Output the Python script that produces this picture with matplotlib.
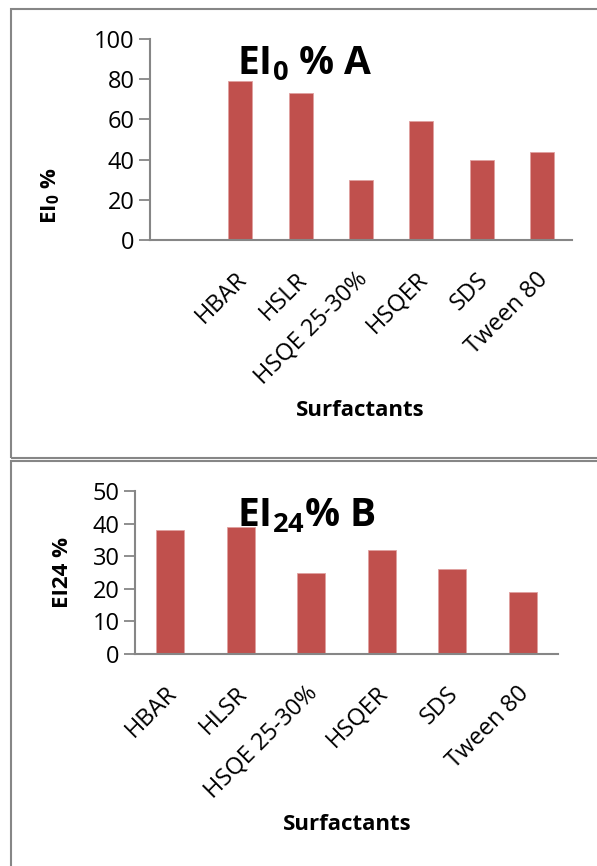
import numpy as np
import matplotlib
matplotlib.use('Agg')
import matplotlib.pyplot as plt
import matplotlib.transforms as mtransforms
from matplotlib.patches import Rectangle

# 数据
cats_a = ['', 'HBAR', 'HSLR', 'HSQE 25-30%', 'HSQER', 'SDS', 'Tween 80']
ei0 = [np.nan, 79, 73, 30, 59, 40, 44]

cats_b = ['HBAR', 'HLSR', 'HSQE 25-30%', 'HSQER', 'SDS', 'Tween 80']
ei24 = [38, 39, 25, 32, 26, 19]

BAR = '#C0504D'
GRAY = '#868686'
FONT = 'Open Sans'

plt.rcParams['font.family'] = [FONT, 'DejaVu Sans']
plt.rcParams['mathtext.fontset'] = 'custom'
plt.rcParams['mathtext.rm'] = FONT
plt.rcParams['mathtext.bf'] = FONT + ':bold'

W, H = 597, 866
fig = plt.figure(figsize=(W / 100, H / 100), dpi=100)


def box(l, t, r, b):
    return [l / W, 1 - b / H, (r - l) / W, (b - t) / H]


def style(ax, cats, ymax, ystep):
    x = np.arange(len(cats))
    ax.set_xlim(-0.5, len(cats) - 0.5)
    ax.set_ylim(0, ymax)
    ax.set_yticks(np.arange(0, ymax + 1, ystep))
    ax.set_xticks(x)
    ax.set_xticklabels(cats, rotation=45, ha='right', va='center',
                       rotation_mode='anchor', fontsize=17)
    ax.tick_params(axis='x', length=0, pad=26)
    shift = mtransforms.ScaledTranslation(3 / 100, 0, fig.dpi_scale_trans)
    for lab in ax.get_xticklabels():
        lab.set_transform(lab.get_transform() + shift)
    ax.tick_params(axis='y', length=8, width=1.3, color=GRAY, labelsize=17, pad=3)
    for s in ['top', 'right']:
        ax.spines[s].set_visible(False)
    for s in ['left', 'bottom']:
        ax.spines[s].set_color(GRAY)
        ax.spines[s].set_linewidth(1.5)
    ax.patch.set_alpha(0)


# 面板边框
fig.patches.append(Rectangle((11 / W, 1 - 458 / H), 1, 449 / H, transform=fig.transFigure,
                             fill=False, edgecolor=GRAY, linewidth=1.5))
fig.patches.append(Rectangle((11 / W, -0.1), 1, 0.1 + (H - 461) / H, transform=fig.transFigure,
                             fill=False, edgecolor=GRAY, linewidth=1.5))

# 图 A
ax1 = fig.add_axes(box(150, 39, 572, 240))
ax1.bar(np.arange(len(cats_a)), ei0, width=0.4, color=BAR, edgecolor='#E0A0A0', linewidth=0.6)
style(ax1, cats_a, 100, 20)
fig.text(305 / W, 1 - 75 / H, r'EI$_\mathbf{0}$ % A', fontsize=28, fontweight='bold',
         ha='center', va='baseline')
fig.text(51 / W, 1 - 196 / H, r'EI$_\mathbf{0}$ %', fontsize=16, fontweight='bold',
         rotation=90, ha='center', va='center')
fig.text(360 / W, 1 - 410 / H, 'Surfactants', fontsize=16, fontweight='bold',
         ha='center', va='center')

# 图 B
ax2 = fig.add_axes(box(135, 491, 558, 654))
ax2.bar(np.arange(len(cats_b)), ei24, width=0.4, color=BAR, edgecolor='#E0A0A0', linewidth=0.6)
style(ax2, cats_b, 50, 10)
fig.text(306 / W, 1 - 527 / H, r'EI$_\mathbf{24}$% B', fontsize=28, fontweight='bold',
         ha='center', va='baseline')
fig.text(62 / W, 1 - 572 / H, 'EI24 %', fontsize=16, fontweight='bold',
         rotation=90, ha='center', va='center')
fig.text(347 / W, 1 - 825 / H, 'Surfactants', fontsize=16, fontweight='bold',
         ha='center', va='center')

fig.savefig('out.png', dpi=100)
